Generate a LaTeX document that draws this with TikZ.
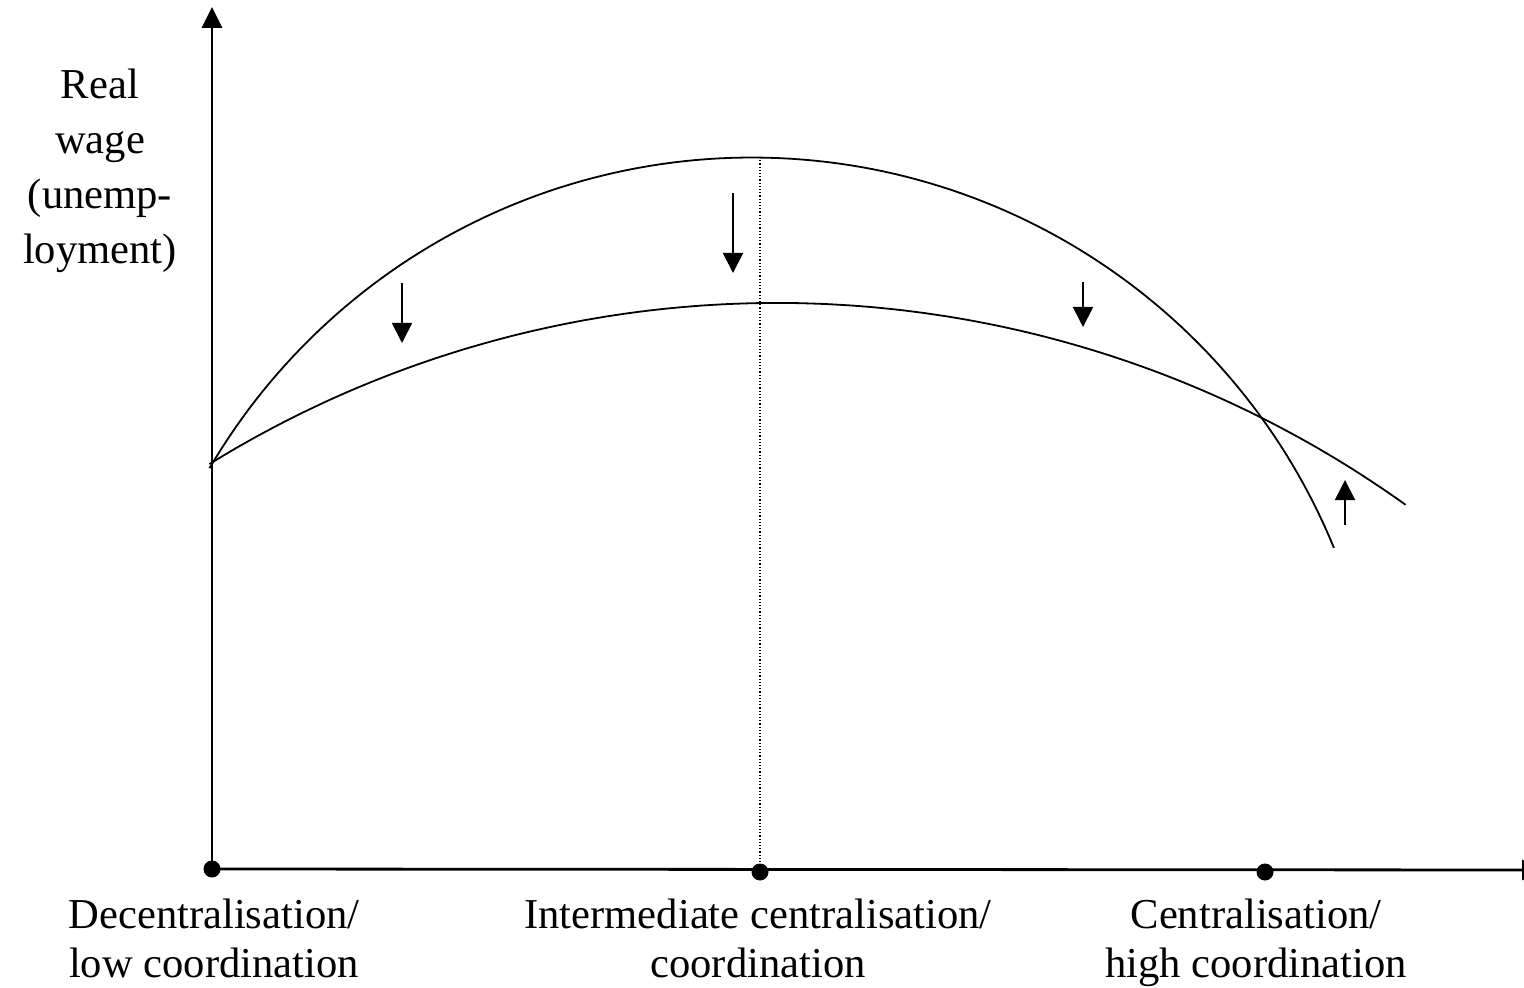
\documentclass[tikz,border=0pt]{standalone}
\usepackage{fontspec}
\setmainfont{Liberation Serif}
\usetikzlibrary{arrows.meta}

\begin{document}
\begin{tikzpicture}[x=0.5pt,y=-0.5pt,
  axisline/.style={line width=1.4pt,-{Triangle[length=10.5pt,width=10pt]}},
  wagecurve/.style={line width=0.9pt,samples=120,variable=\t},
  shiftarrow/.style={line width=0.9pt,-{Triangle[length=10pt,width=10pt]}},
  dot/.style={circle,fill=black,inner sep=0pt,minimum size=8.5pt},
  axistext/.style={inner sep=0pt,anchor=north,align=center,font=\fontsize{21.3}{24.5}\selectfont}]
\useasboundingbox (0,0) rectangle (1524,988);
\clip (0,0) rectangle (1524,988);

% axes
\coordinate (ytip) at (212,7);
\coordinate (xtip) at (1543,870);
\node[dot] (dlow) at (212,869) {};
\node[dot] (dmid) at (760,872) {};
\node[dot] (dhigh) at (1265,872) {};
\draw[axisline] (dlow.center) -- (ytip);
\draw[axisline] (dlow.center) -- (xtip);

% the two curves (circle arcs)
\coordinate (peakold) at (760,157);
\draw[wagecurve] plot[domain=22.3:149.6] ({752+629*cos(\t)},{786.5-629*sin(\t)});
\draw[wagecurve] plot[domain=54.4:121.7] ({776.9+1080*cos(\t)},{1382.9-1080*sin(\t)});
\draw[line width=0.7pt,dash pattern=on 0.6pt off 1pt] (peakold) -- (dmid.center);

% shifts
\coordinate (a1) at (402,283); \coordinate (b1) at (402,343);
\coordinate (a2) at (733,193); \coordinate (b2) at (733,273);
\coordinate (a3) at (1083,282); \coordinate (b3) at (1083,327);
\coordinate (a4) at (1345,525); \coordinate (b4) at (1345,480);
\draw[shiftarrow] (a1) -- (b1);
\draw[shiftarrow] (a2) -- (b2);
\draw[shiftarrow] (a3) -- (b3);
\draw[shiftarrow] (a4) -- (b4);

% labels
\node[axistext,font=\fontsize{21.3}{27.5}\selectfont] (ylab) at (100,69) {Real\\wage\\(unemp-\\loyment)};
\node[axistext] (llow) at (214,899) {Decentralisation/\\low coordination};
\node[axistext] (lmid) at (758,899) {Intermediate centralisation/\\coordination};
\node[axistext] (lhigh) at (1256,899) {Centralisation/\\high coordination};
\end{tikzpicture}
\end{document}
